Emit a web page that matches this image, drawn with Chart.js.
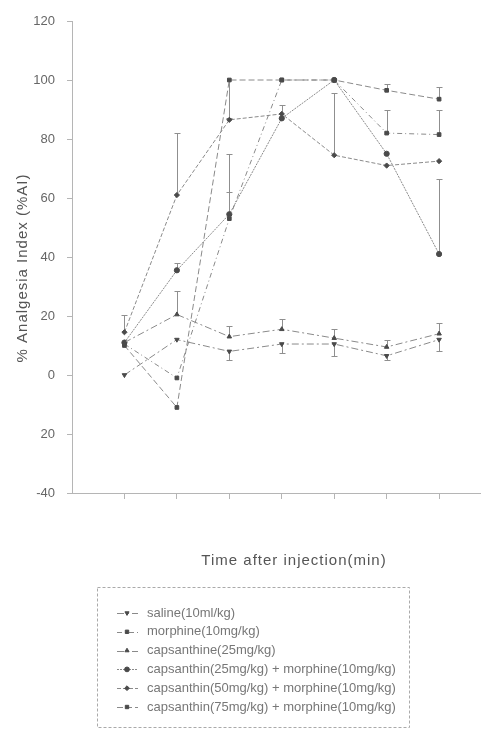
<!DOCTYPE html>
<html>

<head>
    <title>Analgesia index</title>
    <script src="https://cdn.jsdelivr.net/npm/chart.js"></script>
    <style>
        html, body {
            margin: 0;
            padding: 0;
            background: #fff;
        }

        .chart-container {
            width: 489px;
            height: 729px;
        }
    </style>
</head>

<body>
    <div class="chart-container">
        <canvas id="aiChart"></canvas>
    </div>

    <script>
        // time points (no tick labels on the original)
        const timePoints = [1, 2, 3, 4, 5, 6, 7];

        const seriesNames = [
            'saline(10ml/kg)',
            'morphine(10mg/kg)',
            'capsanthine(25mg/kg)',
            'capsanthin(25mg/kg) + morphine(10mg/kg)',
            'capsanthin(50mg/kg) + morphine(10mg/kg)',
            'capsanthin(75mg/kg) + morphine(10mg/kg)'
        ];

        const saline = [0, 12, 8, 10.5, 10.5, 6.5, 12];
        const morphine = [10.5, -1, 53, 100, 100, 82, 81.5];
        const capsanthine = [11, 20.5, 13, 15.5, 12.5, 9.5, 14];
        const caps25Morph = [11, 35.5, 54.5, 87, 100, 75, 41];
        const caps50Morph = [14.5, 61, 86.5, 88.5, 74.5, 71, 72.5];
        const caps75Morph = [10, -11, 100, 100, 100, 96.5, 93.5];

        // error bars (only the visible half of each bar)
        const salineErrDown = [null, null, 3, 3, 4, 1.5, 4];
        const morphineErrUp = [null, null, 9, null, null, 8, 8.5];
        const capsanthineErrUp = [null, 8, 3.5, 3.5, 3, 2.5, 3.5];
        const caps25ErrUp = [null, 2.5, 20.5, null, null, null, 25.5];
        const caps50ErrUp = [6, 21, null, 3, 21, null, null];
        const caps75ErrUp = [null, null, null, null, null, 2, 4];
        const caps75ErrDown = [null, null, 13, null, null, null, null];

        const yTicks = [-40, -20, 0, 20, 40, 60, 80, 100, 120];

        const lineColor = '#8a8a8a';
        const markColor = '#4a4a4a';
        const textColor = '#666';
        const fontFamily = '"Liberation Sans", Arial, sans-serif';

        function makeSet(i, values, style, dash, up, down, rotation) {
            return {
                label: seriesNames[i],
                data: timePoints.map((t, k) => ({ x: t, y: values[k] })),
                borderColor: lineColor,
                borderWidth: 1,
                borderDash: dash,
                backgroundColor: markColor,
                pointBackgroundColor: markColor,
                pointBorderColor: markColor,
                pointStyle: style,
                pointRotation: rotation || 0,
                pointRadius: 2.6,
                pointBorderWidth: 1,
                tension: 0,
                errUp: up,
                errDown: down
            };
        }

        const datasets = [
            makeSet(0, saline, 'triangle', [7, 3, 2, 3], null, salineErrDown, 180),
            makeSet(1, morphine, 'rect', [5, 3, 1, 3], morphineErrUp, null),
            makeSet(2, capsanthine, 'triangle', [7, 3, 2, 3], capsanthineErrUp, null),
            makeSet(3, caps25Morph, 'circle', [2, 1], caps25ErrUp, null),
            makeSet(4, caps50Morph, 'rectRot', [4, 2], caps50ErrUp, null),
            makeSet(5, caps75Morph, 'rect', [6, 3], caps75ErrUp, caps75ErrDown)
        ];

        const extras = {
            id: 'extras',
            beforeDatasetsDraw(chart) {
                const ctx = chart.ctx;
                const xs = chart.scales.x;
                const ys = chart.scales.y;
                ctx.save();
                ctx.strokeStyle = '#8f8f8f';
                ctx.lineWidth = 1;
                chart.data.datasets.forEach(ds => {
                    [ds.errUp, ds.errDown].forEach((errs, dir) => {
                        if (!errs) return;
                        errs.forEach((e, k) => {
                            if (e == null) return;
                            const v = ds.data[k].y;
                            const x = Math.round(xs.getPixelForValue(ds.data[k].x)) + 0.5;
                            const y0 = ys.getPixelForValue(v);
                            const y1 = Math.round(ys.getPixelForValue(dir === 0 ? v + e : v - e)) + 0.5;
                            ctx.beginPath();
                            ctx.moveTo(x, y0);
                            ctx.lineTo(x, y1);
                            ctx.moveTo(x - 3, y1);
                            ctx.lineTo(x + 3, y1);
                            ctx.stroke();
                        });
                    });
                });
                ctx.restore();
            },
            afterDraw(chart) {
                const ctx = chart.ctx;
                ctx.save();

                // axis titles
                ctx.fillStyle = '#555';
                ctx.font = '15px ' + fontFamily;
                ctx.letterSpacing = '1px';
                ctx.textAlign = 'center';
                ctx.textBaseline = 'alphabetic';
                ctx.fillText('Time after injection(min)', 294, 565);

                ctx.save();
                ctx.translate(27, 268);
                ctx.rotate(-Math.PI / 2);
                ctx.fillText('% Analgesia Index (%AI)', 0, 0);
                ctx.restore();
                ctx.letterSpacing = '0px';

                // legend box
                ctx.strokeStyle = '#aaa';
                ctx.lineWidth = 1;
                ctx.setLineDash([3, 2]);
                ctx.strokeRect(97.5, 587.5, 312, 140);

                ctx.font = '13px ' + fontFamily;
                ctx.textAlign = 'left';
                ctx.textBaseline = 'middle';
                chart.data.datasets.forEach((ds, i) => {
                    const y = 613 + i * 18.8;
                    ctx.strokeStyle = lineColor;
                    ctx.setLineDash(ds.borderDash);
                    ctx.beginPath();
                    ctx.moveTo(117, Math.round(y) + 0.5);
                    ctx.lineTo(138, Math.round(y) + 0.5);
                    ctx.stroke();
                    ctx.setLineDash([]);
                    ctx.fillStyle = markColor;
                    ctx.strokeStyle = markColor;
                    Chart.helpers.drawPoint(ctx, {
                        pointStyle: ds.pointStyle,
                        rotation: ds.pointRotation,
                        radius: 2.4,
                        borderWidth: 1
                    }, 127, y);
                    ctx.fillStyle = '#777';
                    ctx.fillText(ds.label, 147, y);
                });
                ctx.restore();
            }
        };

        const ctx = document.getElementById('aiChart').getContext('2d');
        const aiChart = new Chart(ctx, {
            type: 'line',
            data: { datasets: datasets },
            options: {
                responsive: true,
                maintainAspectRatio: false,
                animation: false,
                layout: {
                    padding: { top: 21, right: 9, left: 0, bottom: 0 }
                },
                scales: {
                    x: {
                        type: 'linear',
                        min: 0,
                        max: 7.78,
                        afterBuildTicks: scale => {
                            scale.ticks = timePoints.map(v => ({ value: v }));
                        },
                        afterFit: scale => {
                            scale.height = 236;
                        },
                        ticks: {
                            callback: () => ''
                        },
                        grid: {
                            drawOnChartArea: false,
                            drawTicks: true,
                            tickLength: 6,
                            color: '#b5b5b5'
                        },
                        border: {
                            color: '#b5b5b5',
                            dash: [3, 2]
                        }
                    },
                    y: {
                        min: -40,
                        max: 120,
                        afterBuildTicks: scale => {
                            scale.ticks = yTicks.map(v => ({ value: v }));
                        },
                        afterFit: scale => {
                            scale.width = 72;
                        },
                        ticks: {
                            color: textColor,
                            font: { family: fontFamily, size: 13 },
                            padding: 12,
                            // the scan shows the -20 label without its minus sign
                            callback: v => (v === -20 ? '20' : v)
                        },
                        grid: {
                            drawOnChartArea: false,
                            drawTicks: true,
                            tickLength: 5,
                            color: '#b5b5b5'
                        },
                        border: {
                            color: '#b5b5b5',
                            dash: [3, 2]
                        }
                    }
                },
                plugins: {
                    legend: { display: false },
                    tooltip: { enabled: false }
                }
            },
            plugins: [extras]
        });
    </script>
</body>

</html>
